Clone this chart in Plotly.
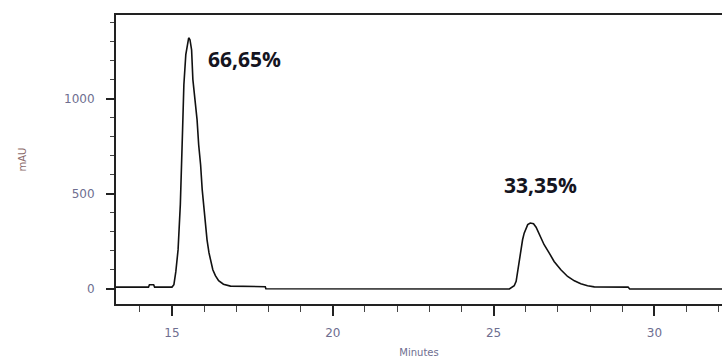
import plotly.graph_objects as go

# Chromatogram trace (minutes, mAU)
time_min = [13.26, 14.27, 14.30, 14.43, 14.46, 15.00, 15.06, 15.12, 15.19, 15.26,
            15.33, 15.37, 15.43, 15.49, 15.52, 15.56, 15.61, 15.65, 15.71, 15.78,
            15.83, 15.89, 15.94, 15.99, 16.04, 16.09, 16.15, 16.21, 16.27, 16.35,
            16.45, 16.60, 16.82, 17.90, 17.92,
            25.49, 25.64, 25.70, 25.75, 25.80, 25.85, 25.90, 25.95, 26.01, 26.06,
            26.14, 26.24, 26.32, 26.42, 26.57, 26.73, 26.88, 27.09, 27.30, 27.51,
            27.71, 27.92, 28.13, 29.18, 29.23, 32.20]
signal_mau = [10, 10, 22, 22, 10, 10, 23, 91, 207, 444,
              838, 1075, 1233, 1291, 1322, 1312, 1259, 1102, 996, 891,
              759, 654, 523, 428, 338, 259, 191, 138, 101, 70,
              44, 25, 15, 12, 1,
              0, 17, 40, 101, 154, 215, 259, 294, 322, 339,
              347, 343, 325, 290, 233, 189, 145, 101, 66, 43,
              28, 17, 11, 10, 0, 0]

peak_labels = ["66,65%", "33,35%"]
peak_label_x = [17.25, 26.47]
peak_label_y = [1212, 549]

x_tick_vals = [15, 20, 25, 30]
y_tick_vals = [0, 500, 1000]

fig = go.Figure()
fig.add_trace(go.Scatter(x=time_min, y=signal_mau, mode="lines",
                         line=dict(color="#111111", width=1.6), showlegend=False))

for txt, xv, yv in zip(peak_labels, peak_label_x, peak_label_y):
    fig.add_annotation(x=xv, y=yv, text=txt, showarrow=False,
                       font=dict(family="Open Sans", size=21, color="#15151f", weight="bold"))

tick_font = dict(family="DejaVu Sans", size=12, color="#6e6e90")

fig.update_layout(
    width=722, height=363,
    margin=dict(l=116, r=0, t=15, b=59),
    paper_bgcolor="white", plot_bgcolor="white",
    xaxis=dict(range=[13.26, 32.1], showgrid=False, zeroline=False,
               showline=True, linecolor="#222222", linewidth=2, mirror=True,
               tickvals=x_tick_vals, ticks="outside", ticklen=10, tickwidth=2,
               tickcolor="#222222", tickfont=tick_font, ticklabelstandoff=7,
               minor=dict(dtick=1, tick0=0, ticks="outside", ticklen=6,
                          tickwidth=1, tickcolor="#444444", showgrid=False),
               title=dict(text="Minutes", standoff=10,
                          font=dict(family="DejaVu Sans", size=10, color="#6e6e90"))),
    yaxis=dict(range=[-79, 1442], showgrid=False, zeroline=False,
               showline=True, linecolor="#222222", linewidth=2, mirror=False,
               tickvals=y_tick_vals, ticks="outside", ticklen=8, tickwidth=2,
               tickcolor="#222222", tickfont=tick_font, ticklabelstandoff=9,
               minor=dict(dtick=100, tick0=0, ticks="outside", ticklen=4,
                          tickwidth=1, tickcolor="#444444", showgrid=False),
               title=dict(text="mAU", standoff=36,
                          font=dict(family="DejaVu Sans", size=10, color="#8a6a6a"))),
)

fig.write_html("out.html")
